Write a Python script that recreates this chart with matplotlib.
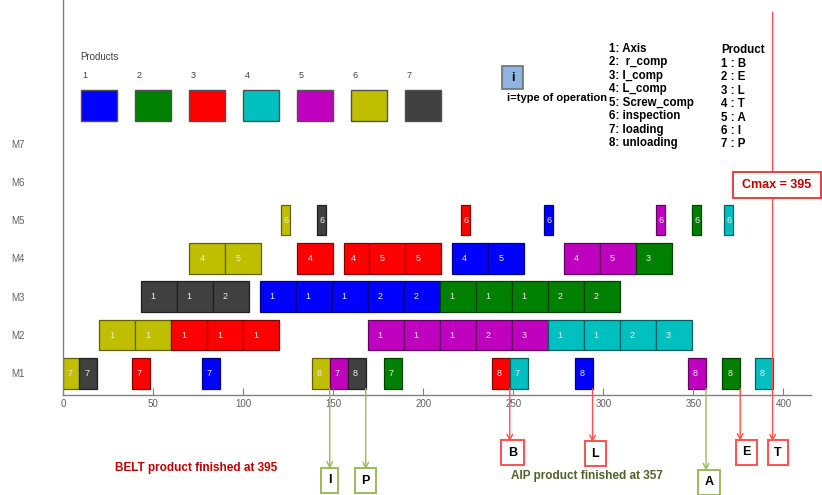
import matplotlib
matplotlib.use('Agg')
import matplotlib.pyplot as plt
from matplotlib.patches import Rectangle
from matplotlib.colors import to_rgb

plt.rcParams['font.family'] = ['Liberation Sans', 'DejaVu Sans']
NARROW = ['Liberation Sans Narrow', 'Liberation Sans', 'DejaVu Sans']

# ---------------- data ----------------
machines = ['M1', 'M2', 'M3', 'M4', 'M5', 'M6', 'M7']
product_ids = [1, 2, 3, 4, 5, 6, 7]
product_colors = ['#0000FF', '#008000', '#FF0000', '#00BFBF', '#BF00BF', '#BFBF00', '#404040']

operation_names = ['1: Axis', '2:  r_comp', '3: l_comp', '4: L_comp', '5: Screw_comp',
                   '6: inspection', '7: loading', '8: unloading']
product_names = ['Product', '1 : B', '2 : E', '3 : L', '4 : T', '5 : A', '6 : I', '7 : P']

# operations (machine, product, operation type, start, duration)
op_machine = [1] * 14 + [2] * 14 + [3] * 13 + [4] * 11 + [5] * 7
op_product = [6, 7, 3, 1, 6, 5, 7, 2, 3, 4, 1, 5, 2, 4,
              6, 6, 3, 3, 3, 5, 5, 5, 5, 5, 4, 4, 4, 4,
              7, 7, 7, 1, 1, 1, 1, 1, 2, 2, 2, 2, 2,
              6, 6, 3, 3, 3, 3, 1, 1, 5, 5, 2,
              6, 7, 3, 1, 5, 2, 4]
op_type = [7, 7, 7, 7, 8, 7, 8, 7, 8, 7, 8, 8, 8, 8,
           1, 1, 1, 1, 1, 1, 1, 1, 2, 3, 1, 1, 2, 3,
           1, 1, 2, 1, 1, 1, 2, 2, 1, 1, 1, 2, 2,
           4, 5, 4, 4, 5, 5, 4, 5, 4, 5, 3,
           6, 6, 6, 6, 6, 6, 6]
op_start = [0, 9, 38, 77, 138, 148, 158, 178, 238, 248, 284, 347, 366, 384,
            20, 40, 60, 80, 100, 169, 189, 209, 229, 249, 269, 289, 309, 329,
            43, 63, 83, 109, 129, 149, 169, 189, 209, 229, 249, 269, 289,
            70, 90, 130, 156, 170, 190, 216, 236, 278, 298, 318,
            121, 141, 221, 267, 329, 349, 367]
op_duration = [9, 10, 10, 10, 10, 10, 10, 10, 10, 10, 10, 10, 10, 10,
               20, 20, 20, 20, 20, 20, 20, 20, 20, 20, 20, 20, 20, 20,
               20, 20, 20, 20, 20, 20, 20, 20, 20, 20, 20, 20, 20,
               20, 20, 20, 14, 20, 20, 20, 20, 20, 20, 20,
               5, 5, 5, 5, 5, 5, 5]

finish_labels = ['I', 'P', 'B', 'L', 'A', 'E', 'T']
finish_products = [6, 7, 3, 1, 5, 2, 4]
cmax = 395
belt_finish = 395
aip_finish = 357
x_ticks = [0, 50, 100, 150, 200, 250, 300, 350, 400]

# ---------------- figure ----------------
fig = plt.figure(figsize=(8.22, 4.95), dpi=100)
ax = fig.add_axes([0.077, 0.202, 0.91, 0.798])
ax.set_xlim(0, 415.5)
ax.set_ylim(0.433, 10.75)

def darker(c, f=0.5):
    r, g, b = to_rgb(c)
    return (r * f, g * f, b * f)

BAR_H = 0.8
for m, p, t, s, d in zip(op_machine, op_product, op_type, op_start, op_duration):
    col = product_colors[p - 1]
    ax.barh(m, d, left=s, height=BAR_H, color=col, edgecolor=darker(col), linewidth=0.9)
    ax.text(s + 0.28 * d, m, str(t), ha='left', va='center', fontsize=6.5, color='#ECECEC')

# products legend
ax.text(9.3, 9.26, 'Products', fontsize=7, color='#404040', va='center')
for i, (pid, col) in enumerate(zip(product_ids, product_colors)):
    x0 = 10 + 30 * i
    ax.add_patch(Rectangle((x0, 7.6), 20, 0.8, facecolor=col, edgecolor='#505050', linewidth=1))
    ax.text(x0 + 0.6, 8.79, str(pid), fontsize=6.5, color='#404040', va='center')

# operation type box
ax.add_patch(Rectangle((243.6, 8.42), 11.8, 0.6, facecolor='#8DB4E2', edgecolor='#707070', linewidth=1.2))
ax.text(249.5, 8.72, 'i', ha='center', va='center', fontsize=9, fontweight='bold', family=NARROW)
ax.text(274, 8.19, 'i=type of operation', ha='center', va='center', fontsize=8,
        fontweight='bold', family=NARROW)

for k, name in enumerate(operation_names):
    ax.text(303.2, 9.47 - 0.352 * k, name, ha='left', va='center', fontsize=8.3,
            fontweight='bold', family=NARROW)
for k, name in enumerate(product_names):
    ax.text(365.4, 9.44 - 0.352 * k, name, ha='left', va='center', fontsize=8.3,
            fontweight='bold', family=NARROW)

# finish arrows
RED = '#FF5050'
GREEN = '#9BBB59'
box_dx = {'I': 0, 'P': 0, 'B': 1.5, 'L': 1.5, 'A': 1.5, 'E': 3.5, 'T': 3.0}
box_cy = {'I': -1.79, 'P': -1.81, 'B': -1.08, 'L': -1.10, 'A': -1.84, 'E': -1.06, 'T': -1.08}
for lab, p in zip(finish_labels, finish_products):
    ends = [s + d for m, pp, t, s, d in zip(op_machine, op_product, op_type, op_start, op_duration)
            if pp == p and t == 8]
    x = ends[0]
    col = GREEN if lab in 'AIP' else RED
    cy = box_cy[lab]
    top = cy + 0.30
    y0 = 10.43 if lab == 'T' else 0.6
    ax.annotate('', xy=(x, top), xytext=(x, y0),
                arrowprops=dict(arrowstyle='->', color=col, lw=1.0, shrinkA=0, shrinkB=0,
                                mutation_scale=10),
                annotation_clip=False)
    ax.text(x + box_dx[lab], cy, lab, ha='center', va='center', fontsize=9, fontweight='bold',
            bbox=dict(boxstyle='square,pad=0.52', fc='white', ec=col, lw=1.4), clip_on=False)

# Cmax box
ax.add_patch(Rectangle((372, 5.58), 48.8, 0.68, facecolor='white', edgecolor='#E83030',
                       linewidth=1.3, clip_on=False, zorder=5))
ax.text(396.4, 5.92, f'Cmax = {cmax}', ha='center', va='center', fontsize=9,
        fontweight='bold', color='#C00000', family=NARROW, zorder=6, clip_on=False)

ax.text(73.7, -1.47, f'BELT product finished at {belt_finish}', ha='center', va='center',
        fontsize=8.5, fontweight='bold', color='#C00000', family=NARROW, clip_on=False)
ax.text(291, -1.68, f'AIP product finished at {aip_finish}', ha='center', va='center',
        fontsize=8.5, fontweight='bold', color='#4F6228', family=NARROW, clip_on=False)

# axes styling
for sp in ['top', 'right']:
    ax.spines[sp].set_visible(False)
for sp in ['left', 'bottom']:
    ax.spines[sp].set_color('#808080')
    ax.spines[sp].set_linewidth(1.0)
ax.set_xticks(x_ticks)
ax.tick_params(axis='x', direction='in', length=5, color='#808080', labelsize=7,
               labelcolor='#606060', pad=3)
ax.set_yticks(range(1, 8))
ax.set_yticklabels(machines)
ax.tick_params(axis='y', length=0, labelsize=7, labelcolor='#606060', pad=28)

fig.savefig('out.png', dpi=100)
